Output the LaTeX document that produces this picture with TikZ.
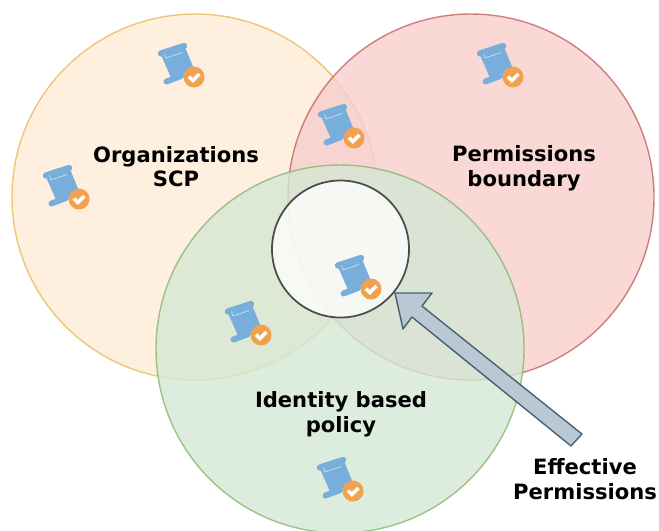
\documentclass[tikz,border=0pt]{standalone}
\usepackage{fontspec}
\setmainfont{DejaVu Sans}
\definecolor{orgfill}{HTML}{FFE6CC}
\definecolor{orgline}{HTML}{D79B00}
\definecolor{boundfill}{HTML}{F8CECC}
\definecolor{boundline}{HTML}{B85450}
\definecolor{idfill}{HTML}{D5E8D4}
\definecolor{idline}{HTML}{82B366}
\definecolor{arrowfill}{HTML}{BAC8D3}
\definecolor{arrowline}{HTML}{23445D}
\definecolor{scrollblue}{HTML}{78AEDC}
\definecolor{badge}{HTML}{F0A24E}
\tikzset{
  label/.style={align=center,font=\fontsize{6}{7}\selectfont\bfseries},
  policy/.pic={
    \fill[scrollblue] (-.33,.22) -- (-.09,.30) -- (0,.08) -- (-.22,-.03) -- cycle;
    \draw[scrollblue,line width=1.8pt,line cap=round] (-.33,.235) -- (-.10,.31);
    \draw[scrollblue,line width=1.7pt,line cap=round] (-.275,-.045) -- (-.13,.01);
    \draw[white,draw opacity=.6,line width=.2pt] (-.295,.235) -- (-.28,.19) -- (-.12,.245);
    \fill[badge] (0,0) circle (.105);
    \draw[white,line width=1pt] (-.05,.005) -- (-.012,-.035) -- (.055,.03);
  }
}
\begin{document}
\begin{tikzpicture}
\useasboundingbox (0,0) rectangle (6.59,-5.30);
% Three policy circles and their overlap
\draw[orgline,fill=orgfill,fill opacity=.65,draw opacity=.5,line width=.4pt] (1.95,-1.97) circle (1.83);
\draw[boundline,fill=boundfill,fill opacity=.8,draw opacity=.7,line width=.4pt] (4.71,-1.97) circle (1.83);
\draw[idline,fill=idfill,fill opacity=.8,draw opacity=.75,line width=.4pt] (3.40,-3.49) circle (1.84);
\draw[black!70,fill=white,fill opacity=.75,draw opacity=1,line width=.5pt] (3.405,-2.49) circle (.685);
\draw[arrowline,fill=arrowfill,draw opacity=.8,line width=.4pt,line join=round] (3.95,-2.93) -- (4.32,-2.93) -- (4.22,-3.06) -- (5.82,-4.34) -- (5.71,-4.46) -- (4.12,-3.17) -- (4.03,-3.29) -- cycle;
\pic at (1.94,-.77) {policy};
\pic at (5.13,-.77) {policy};
\pic at (3.54,-1.38) {policy};
\pic at (.79,-1.99) {policy};
\pic at (2.61,-3.35) {policy};
\pic at (3.71,-2.89) {policy};
\pic at (3.53,-4.91) {policy};
\node[label] (scp) at (1.76,-1.665) {Organizations\\SCP};
\node[label] (boundary) at (5.24,-1.68) {Permissions\\boundary};
\node[label] (identity) at (3.41,-4.14) {Identity based\\policy};
\node[label] (effective) at (5.85,-4.79) {Effective\\Permissions};
\end{tikzpicture}
\end{document}
